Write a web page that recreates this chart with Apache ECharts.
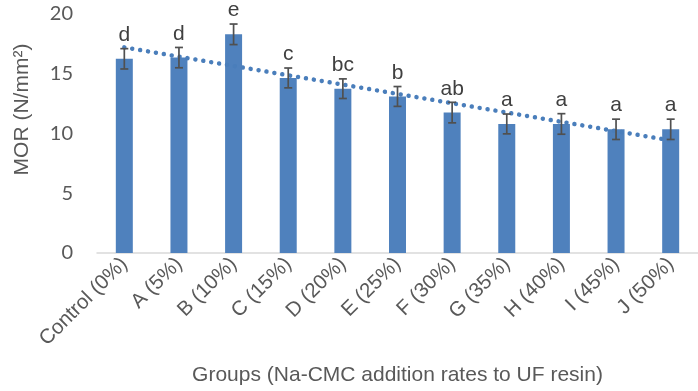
<!DOCTYPE html>
<html>
<head>
<meta charset="utf-8">
<script src="https://cdn.jsdelivr.net/npm/echarts@6/dist/echarts.min.js"></script>
<style>html,body{margin:0;padding:0;background:#fff}#c{width:698px;height:391px}</style>
</head>
<body>
<div id="c"></div>
<script>
var categories = ['Control (0%)','A (5%)','B (10%)','C (15%)','D (20%)','E (25%)','F (30%)','G (35%)','H (40%)','I (45%)','J (50%)'];
var morValues = [16.25, 16.35, 18.3, 14.65, 13.75, 13.1, 11.75, 10.8, 10.8, 10.35, 10.35];
var errValues = [0.85, 0.85, 0.86, 0.83, 0.82, 0.83, 0.86, 0.83, 0.86, 0.85, 0.85];
var letters = ['d','d','e','c','bc','b','ab','a','a','a','a'];
var yTicks = [0, 5, 10, 15, 20];

// linear trend line (least squares) computed from the data
var n = morValues.length, sx = 0, sy = 0, sxy = 0, sxx = 0;
for (var i = 0; i < n; i++) { sx += i; sy += morValues[i]; sxy += i * morValues[i]; sxx += i * i; }
var slope = (n * sxy - sx * sy) / (n * sxx - sx * sx);
var intercept = (sy - slope * sx) / n;
var trend = morValues.map(function (v, i) { return +(intercept + slope * i).toFixed(3); });

var errData = morValues.map(function (v, i) { return [i, v - errValues[i], v + errValues[i], letters[i]]; });

var chart = echarts.init(document.getElementById('c'));
chart.setOption({
  animation: false,
  grid: { left: 97, top: 14, width: 607, bottom: 137 },
  xAxis: {
    type: 'category',
    data: categories,
    name: 'Groups (Na-CMC addition rates to UF resin)',
    nameLocation: 'middle',
    nameGap: 112,
    nameTextStyle: { fontFamily: 'Liberation Sans', fontSize: 21, color: '#595959' },
    axisLine: { lineStyle: { color: '#d9d9d9', width: 1.5 } },
    axisTick: { show: false },
    axisLabel: { rotate: 45, margin: 8, fontFamily: 'Liberation Sans', fontSize: 20.5, color: '#595959', interval: 0 }
  },
  yAxis: {
    type: 'value',
    min: yTicks[0], max: yTicks[yTicks.length - 1], interval: 5,
    name: 'MOR (N/mm²)',
    nameLocation: 'middle',
    nameGap: 64,
    nameRotate: 90,
    nameTextStyle: { fontFamily: 'Liberation Sans', fontSize: 21, color: '#595959', padding: [0, 0, 0, 48] },
    axisLine: { show: false },
    axisTick: { show: false },
    splitLine: { show: false },
    axisLabel: { margin: 24, fontFamily: 'Lato', fontSize: 20, color: '#595959' }
  },
  series: [
    {
      type: 'bar',
      data: morValues,
      barWidth: 17,
      itemStyle: { color: '#4f81bd' },
      z: 2
    },
    {
      type: 'custom',
      data: errData,
      z: 4,
      renderItem: function (params, api) {
        var x = api.value(0);
        var lo = api.coord([x, api.value(1)]);
        var hi = api.coord([x, api.value(2)]);
        var hw = 4;
        var st = { stroke: '#505050', lineWidth: 1.7 };
        return {
          type: 'group',
          children: [
            { type: 'line', shape: { x1: lo[0], y1: lo[1], x2: hi[0], y2: hi[1] }, style: st },
            { type: 'line', shape: { x1: lo[0] - hw, y1: lo[1], x2: lo[0] + hw, y2: lo[1] }, style: st },
            { type: 'line', shape: { x1: hi[0] - hw, y1: hi[1], x2: hi[0] + hw, y2: hi[1] }, style: st },
            { type: 'text', style: { text: api.value(3), x: hi[0], y: hi[1] - 3, textAlign: 'center', textVerticalAlign: 'bottom', fontFamily: 'Liberation Sans', fontSize: 21, fill: '#404040' } }
          ]
        };
      }
    },
    {
      type: 'line',
      data: trend,
      symbol: 'none',
      z: 3,
      lineStyle: { color: '#4a7ebb', width: 4.5, type: [0.01, 8], cap: 'round' }
    }
  ]
});
</script>
</body>
</html>
